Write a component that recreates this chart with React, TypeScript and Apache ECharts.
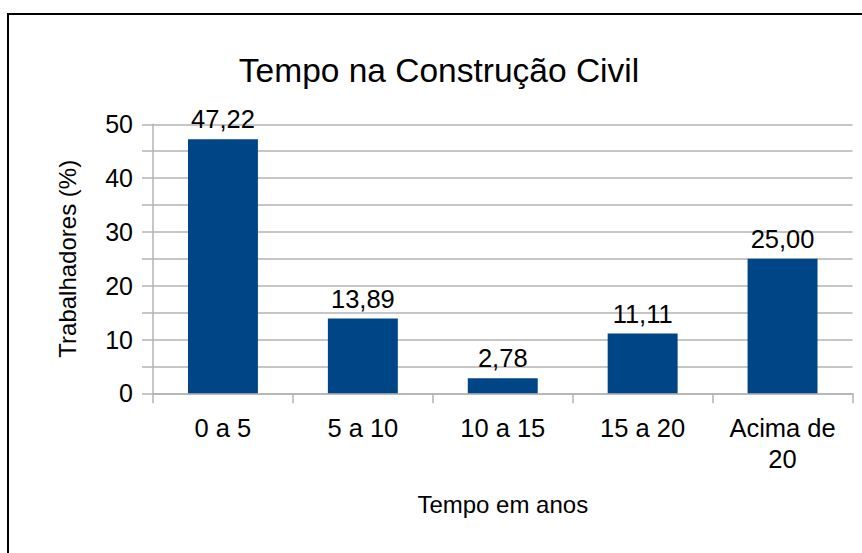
import React, { useEffect, useRef } from "react";
import * as echarts from "echarts";

const categories = ["0 a 5", "5 a 10", "10 a 15", "15 a 20", "Acima de\n20"];
const values = [47.22, 13.89, 2.78, 11.11, 25.0];
const yTicks = [0, 10, 20, 30, 40, 50];
const titleText = "Tempo na Construção Civil";
const xName = "Tempo em anos";
const yName = "Trabalhadores (%)";

const FONT = "'Liberation Sans', Arial, sans-serif";
const GRID = "#b3b3b3";

export default function App() {
  const ref = useRef<HTMLDivElement>(null);
  useEffect(() => {
    if (!ref.current) return;
    const chart = echarts.init(ref.current, undefined, { renderer: "svg" });
    chart.setOption({
      animation: false,
      backgroundColor: "#ffffff",
      textStyle: { fontFamily: FONT },
      title: {
        text: titleText,
        left: 434,
        textAlign: "center",
        top: 48,
        textStyle: { fontFamily: FONT, fontSize: 33.5, fontWeight: "normal", color: "#000" },
      },
      graphic: [
        {
          type: "rect",
          shape: { x: 8, y: 14, width: 900, height: 600 },
          style: { fill: "none", stroke: "#000", lineWidth: 2 },
          silent: true,
        },
      ],
      grid: { left: 153, right: 9.5, top: 124.3, bottom: 159.7, containLabel: false },
      xAxis: {
        type: "category",
        data: categories,
        boundaryGap: true,
        name: xName,
        nameLocation: "middle",
        nameGap: 99,
        nameTextStyle: { fontFamily: FONT, fontSize: 24, color: "#000" },
        axisLine: { show: true, lineStyle: { color: GRID, width: 1.5 } },
        axisTick: { show: true, length: 10, alignWithLabel: false, lineStyle: { color: GRID, width: 1.5 } },
        axisLabel: { fontFamily: FONT, fontSize: 25.5, lineHeight: 31, color: "#000", margin: 19, interval: 0 },
        splitLine: { show: false },
      },
      yAxis: {
        type: "value",
        min: 0,
        max: 50,
        interval: 5,
        name: yName,
        nameLocation: "middle",
        nameGap: 74,
        nameTextStyle: { fontFamily: FONT, fontSize: 24, color: "#000" },
        axisLine: { show: true, lineStyle: { color: GRID, width: 1.5 } },
        axisTick: { show: true, length: 11, lineStyle: { color: GRID, width: 1.5 } },
        axisLabel: {
          fontFamily: FONT,
          fontSize: 25,
          color: "#000",
          margin: 20,
          formatter: (v: number) => (yTicks.includes(v) ? String(v) : ""),
        },
        splitLine: { show: true, lineStyle: { color: GRID, width: 1.5 } },
      },
      series: [
        {
          type: "bar",
          data: values,
          barWidth: "50%",
          itemStyle: { color: "#004586" },
          label: {
            show: true,
            position: "top",
            distance: 7,
            fontFamily: FONT,
            fontSize: 25.5,
            color: "#000",
            formatter: (p: any) => p.value.toFixed(2).replace(".", ","),
          },
        },
      ],
    });
    return () => chart.dispose();
  }, []);
  return (
    <div
      ref={ref}
      style={{ position: "fixed", left: 0, top: 0, width: 862, height: 553 }}
    />
  );
}
